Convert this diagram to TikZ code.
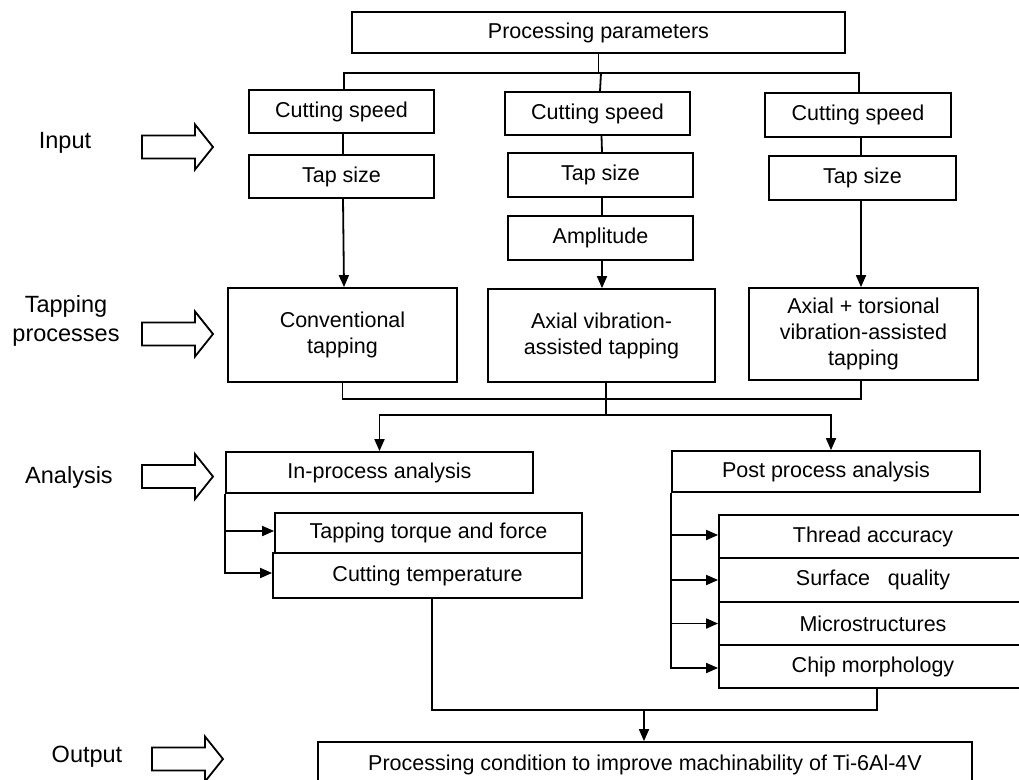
\documentclass[tikz,border=0pt]{standalone}
\usepackage{fontspec}
\setmainfont{Liberation Sans}
\usetikzlibrary{arrows.meta}

\tikzset{bb/.style={draw, inner sep=0pt, font=\fontsize{21.5}{26}\selectfont},
    lbl/.style={align=center, font=\fontsize{23.5}{29}\selectfont},
    arr/.style={-{Triangle[length=12pt, width=10pt]}},
    fat/.pic={\draw (0,-11.5) -- (53,-11.5) -- (53,-22.5) -- (71,0) -- (53,22.5) -- (53,11.5) -- (0,11.5) -- cycle;}}

\begin{document}
\begin{tikzpicture}[x=1pt, y=-1pt, line width=1.8pt]
    \clip (0,0) rectangle (1019,779);

    \node[bb, minimum width=493pt, minimum height=41pt] (params) at (598.5,32.5) {Processing parameters};

    \node[bb, minimum width=185pt, minimum height=43pt] (speed_a) at (341.5,111.5) {Cutting speed};
    \node[bb, minimum width=185pt, minimum height=43pt] (size_a) at (341.5,176.5) {Tap size};

    \node[bb, minimum width=185pt, minimum height=43pt] (speed_b) at (597.5,113.5) {Cutting speed};
    \node[bb, minimum width=185pt, minimum height=44pt] (size_b) at (600.5,175) {Tap size};
    \node[bb, minimum width=185pt, minimum height=44pt] (amplitude) at (600.5,238) {Amplitude};

    \node[bb, minimum width=186pt, minimum height=44pt] (speed_c) at (858,115) {Cutting speed};
    \node[bb, minimum width=187pt, minimum height=44pt] (size_c) at (862.5,178) {Tap size};

    \node[bb, align=center, minimum width=229pt, minimum height=94pt] (conventional) at (342.5,335) {Conventional\\tapping};
    \node[bb, align=center, minimum width=227pt, minimum height=93pt] (axial) at (601.5,335.5) {Axial vibration-\\assisted tapping};
    \node[bb, align=center, minimum width=229pt, minimum height=92pt] (torsional) at (863.5,334) {Axial + torsional\\vibration-assisted\\tapping};

    \node[bb, minimum width=307pt, minimum height=41pt] (in_process) at (379.5,472.5) {In-process analysis};
    \node[bb, minimum width=307pt, minimum height=40pt] (torque) at (428.5,533) {Tapping torque and force};
    \node[bb, minimum width=309pt, minimum height=45pt] (temperature) at (427.5,575.5) {Cutting temperature};

    \node[bb, minimum width=308pt, minimum height=41pt] (post_process) at (826,471.5) {Post process analysis};
    \node[bb, minimum width=308pt, minimum height=43pt] (thread) at (873,536.5) {Thread accuracy};
    \node[bb, minimum width=308pt, minimum height=44pt] (surface) at (873,580) {Surface~~~quality};
    \node[bb, minimum width=308pt, minimum height=43pt] (micro) at (873,623.5) {Microstructures};
    \node[bb, minimum width=308pt, minimum height=43pt] (chip) at (873,666.5) {Chip morphology};

    \node[bb, minimum width=654pt, minimum height=46pt] (output) at (645,765) {Processing condition to improve machinability of Ti-6Al-4V};

    \node[lbl] (input_label) at (65,143) {Input};
    \node[lbl] (tapping_label) at (66,321) {Tapping\\processes};
    \node[lbl] (analysis_label) at (69,477) {Analysis};
    \node[lbl] (output_label) at (87,757) {Output};

    \pic at (142,147) {fat};
    \pic at (142,334) {fat};
    \pic at (142,476.5) {fat};
    \pic at (152,759) {fat};

    \coordinate (top_bus) at (0,73);
    \coordinate (mid_bus) at (0,399);
    \coordinate (low_bus) at (0,415);
    \coordinate (out_bus) at (0,710);

    \draw (params.south) -- (params.south |- top_bus);
    \draw ([xshift=2.5pt]speed_a.north) |- ([xshift=1pt]speed_c.north |- top_bus) -- ([xshift=1pt]speed_c.north);
    \draw ([xshift=1.5pt]speed_a.south) -- ([xshift=1.5pt]size_a.north);
    \draw[arr] ([xshift=1.5pt]size_a.south) -- ([xshift=1.5pt]conventional.north);

    \draw ([xshift=2.5pt]params.south |- top_bus) -- ([xshift=2.5pt]speed_b.north);
    \draw ([xshift=4pt]speed_b.south) -- ([xshift=1.5pt]size_b.north);
    \draw ([xshift=1.5pt]size_b.south) -- ([xshift=1.5pt]amplitude.north);
    \draw[arr] ([xshift=1.5pt]amplitude.south) -- ([xshift=0.5pt]axial.north);

    \draw ([xshift=3pt]speed_c.south) -- ([xshift=-1.5pt]size_c.north);
    \draw[arr] ([xshift=-1.5pt]size_c.south) -- ([xshift=-2.5pt]torsional.north);

    \draw (conventional.south) |- ([xshift=-2.5pt]torsional.south |- mid_bus) -- ([xshift=-2.5pt]torsional.south);
    \draw ([xshift=4.5pt]axial.south) -- ([xshift=4.5pt]axial.south |- low_bus);
    \draw[arr] ([xshift=4.5pt]axial.south |- low_bus) -| (in_process.north);
    \draw[arr] ([xshift=4.5pt]axial.south |- low_bus) -| ([xshift=5pt]post_process.north);

    \draw[arr] (in_process.south west) |- ([yshift=2pt]torque.west);
    \draw[arr] (in_process.south west) |- ([yshift=2.5pt]temperature.west);

    \draw[arr] (post_process.south west) |- ([yshift=1.5pt]thread.west);
    \draw[arr] (post_process.south west) |- (surface.west);
    \draw[arr] (post_process.south west) |- (micro.west);
    \draw[arr] (post_process.south west) |- ([yshift=-1.5pt]chip.west);

    \draw ([xshift=4.5pt]temperature.south) |- ([xshift=4pt]chip.south |- out_bus) -- ([xshift=4pt]chip.south);
    \draw[arr] ([xshift=-1pt]output.north |- out_bus) -- ([xshift=-1pt]output.north);

\end{tikzpicture}
\end{document}
